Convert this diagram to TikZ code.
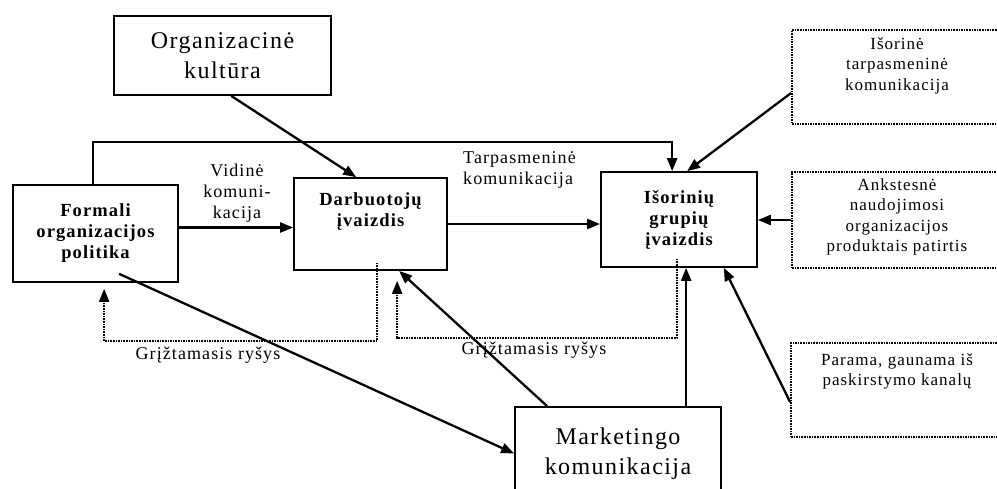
\documentclass[tikz,border=0pt]{standalone}
\usepackage{fontspec}
\setmainfont{Liberation Serif}[LetterSpace=6]
\usetikzlibrary{positioning,arrows.meta}

\begin{document}
\begin{tikzpicture}[x=1pt, y=-1pt,
    box/.style={rectangle, draw=black, line width=1.7pt},
    dotbox/.style={rectangle, draw=black, dash pattern=on 1.6pt off 1pt, line width=1.8pt},
    arr/.style={-{Triangle[length=13pt,width=10pt]}, line width=2.3pt},
    fb/.style={dash pattern=on 1.6pt off 1pt, line width=2pt, -{Triangle[length=13pt,width=10pt]}},
    bigtxt/.style={font=\fontsize{24}{30}\selectfont, align=center},
    boldtxt/.style={font=\fontsize{18.5}{21}\selectfont\bfseries, align=center},
    smalltxt/.style={font=\fontsize{17}{20.5}\selectfont, align=center, inner sep=0pt},
    lbl/.style={font=\fontsize{18}{21}\selectfont, align=center, inner sep=0pt}]
    \clip (0,0) rectangle (997,488);

    % boxes
    \node[box, bigtxt, minimum width=217pt, minimum height=79pt] (kultura) at (222.5,55.5) {Organizacinė\\kultūra};
    \node[box, boldtxt, minimum width=165pt, minimum height=97pt] (politika) at (95.5,233.5) {Formali\\organizacijos\\politika};
    \node[box, minimum width=153pt, minimum height=92pt] (darbuot) at (370.5,224) {};
    \node[boldtxt, inner sep=0pt, below=15pt of darbuot.north] (darbtxt) {Darbuotojų\\įvaizdis};
    \node[box, boldtxt, minimum width=156pt, minimum height=95pt] (isorin) at (679,219.5) {Išorinių\\grupių\\įvaizdis};
    \node[box, bigtxt, minimum width=206pt, minimum height=93pt] (marketing) at (618,453.5) {Marketingo\\komunikacija};

    % outer boxes
    \node[dotbox, minimum width=210pt, minimum height=94pt] (tarpas) at (897,77) {};
    \node[smalltxt, below=8pt of tarpas.north] (tarpastxt) {Išorinė\\tarpasmeninė\\komunikacija};
    \node[dotbox, minimum width=210pt, minimum height=96pt] (patirtis) at (897,220) {};
    \node[smalltxt, below=7pt of patirtis.north] (patirtistxt) {Ankstesnė\\naudojimosi\\organizacijos\\produktais patirtis};
    \node[dotbox, minimum width=212pt, minimum height=94pt] (parama) at (897,390) {};
    \node[smalltxt, below=11pt of parama.north] (paramatxt) {Parama, gaunama iš\\paskirstymo kanalų};

    % labels
    \node[lbl] (vidine) at (237,193) {Vidinė\\komuni-\\kacija};
    \node[lbl, anchor=west, align=left] (tarpkom) at (463,170) {Tarpasmeninė\\komunikacija};
    \node[lbl] (grizt1) at (208,355) {Grįžtamasis ryšys};
    \node[lbl] (grizt2) at (534,350) {Grįžtamasis ryšys};

    % connectors
    \draw[arr] ([xshift=118pt]kultura.south west) -- ([xshift=63pt]darbuot.north west);
    \draw[arr] ([yshift=6pt]politika.east) coordinate (vid) -- (vid -| darbuot.west);
    \draw[arr] (darbuot.east) -- (darbuot.east -| isorin.west);
    \draw[arr] ([xshift=81pt]politika.north west) -- ++(0,-42) -| ([xshift=72pt]isorin.north west);
    \draw[arr] ([yshift=-16pt]tarpas.west) -- ([xshift=87pt]isorin.north west);
    \draw[arr] (patirtis.west) -- (patirtis.west -| isorin.east);
    \draw[arr] ([yshift=-12pt]parama.west) -- ([xshift=-34pt]isorin.south east);
    \draw[arr] ([xshift=172pt]marketing.north west) coordinate (mk) -- (mk |- isorin.south);
    \draw[arr] ([xshift=33pt]marketing.north west) -- ([xshift=106pt]darbuot.south west);
    \draw[arr] ([xshift=107pt,yshift=9pt]politika.south west) -- (marketing.west);

    % feedback
    \draw[fb] ([xshift=84pt,yshift=8pt]darbuot.south west) -- ++(0,78) -| ([xshift=92pt,yshift=-6pt]politika.south west);
    \draw[fb] ([xshift=77pt,yshift=9pt]isorin.south west) -- ++(0,79) -| ([xshift=104pt,yshift=-10pt]darbuot.south west);
\end{tikzpicture}
\end{document}
